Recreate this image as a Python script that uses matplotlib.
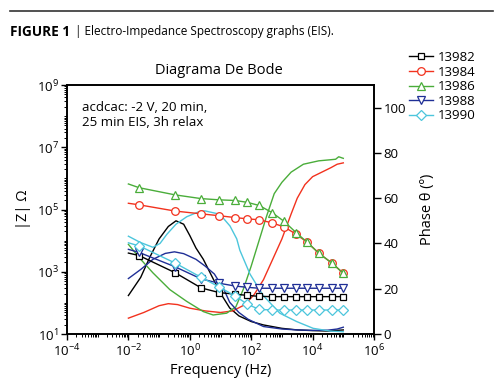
import matplotlib
matplotlib.use('Agg')
import matplotlib.pyplot as plt
import numpy as np
from matplotlib.ticker import LogLocator, FixedLocator, NullFormatter
from matplotlib.lines import Line2D

plt.rcParams['font.family'] = ['Open Sans', 'DejaVu Sans']
plt.rcParams['mathtext.fontset'] = 'custom'
plt.rcParams['mathtext.rm'] = 'Open Sans'

# Amostras (log10 da frequência) usadas para |Z|, com marcadores
logf_z = [-2.0, -1.65, -0.48, 0.37, 0.96, 1.48, 1.87, 2.26, 2.68, 3.07, 3.46, 3.82, 4.21, 4.64, 5.0]

# log10 |Z| por amostra
z_13982 = [3.60, 3.52, 2.97, 2.48, 2.33, 2.28, 2.24, 2.21, 2.20, 2.20, 2.20, 2.20, 2.20, 2.20, 2.20]
z_13984 = [5.20, 5.15, 4.95, 4.86, 4.80, 4.74, 4.70, 4.67, 4.57, 4.44, 4.21, 3.95, 3.59, 3.27, 2.95]
z_13986 = [5.82, 5.70, 5.47, 5.35, 5.31, 5.29, 5.23, 5.13, 4.90, 4.62, 4.26, 3.95, 3.59, 3.27, 2.95]
z_13988 = [3.72, 3.62, 3.16, 2.77, 2.63, 2.54, 2.50, 2.47, 2.47, 2.47, 2.47, 2.47, 2.47, 2.47, 2.47]
z_13990 = [3.93, 3.83, 3.28, 2.82, 2.51, 2.22, 1.96, 1.79, 1.77, 1.77, 1.77, 1.77, 1.77, 1.77, 1.77]

# Fase (graus) - curvas sem marcador
logf_p_13982 = [-2.0, -1.6, -1.3, -1.0, -0.7, -0.45, -0.2, 0.0, 0.2, 0.44, 0.7, 1.0, 1.3, 1.6, 2.0, 2.4, 3.0, 3.5, 4.0, 4.5, 5.0]
p_13982 = [17, 25, 34, 42, 47.5, 50, 48.5, 43.5, 38, 33, 26, 18, 11.5, 8, 5.5, 4, 2.5, 1.8, 1.5, 1.3, 1.8]

logf_p_13984 = [-2.0, -1.5, -1.0, -0.7, -0.4, 0.0, 0.5, 1.0, 1.4, 1.8, 2.1, 2.4, 2.7, 3.0, 3.3, 3.5, 3.75, 4.0, 4.3, 4.6, 4.8, 5.0]
p_13984 = [7, 9.5, 12.5, 13.4, 13, 11.4, 10.2, 9.5, 10.2, 13, 17.5, 24, 33, 42, 53, 60, 66, 69.5, 71.5, 73.5, 75, 75.6]

logf_p_13986 = [-2.0, -1.6, -1.2, -0.65, -0.1, 0.44, 0.76, 1.2, 1.5, 1.75, 2.0, 2.25, 2.5, 2.75, 3.0, 3.3, 3.7, 4.2, 4.6, 4.75, 4.85, 5.0]
p_13986 = [39.6, 33, 27, 19.6, 14.4, 9.9, 8.4, 9.2, 12, 20, 30, 41, 52, 62, 67, 71.5, 75, 76.5, 77, 77.2, 78.3, 77.6]

logf_p_13988 = [-2.0, -1.6, -1.2, -0.8, -0.5, -0.2, 0.2, 0.5, 0.8, 1.1, 1.3, 1.6, 1.9, 2.4, 3.0, 3.5, 4.0, 4.5, 4.8, 5.0]
p_13988 = [24.5, 28.5, 33, 35.6, 36.3, 35.5, 33, 30, 26.5, 20, 14, 9.5, 6.5, 3.3, 2.2, 1.8, 1.6, 1.7, 2.2, 3.0]

logf_p_13990 = [-2.0, -1.62, -1.2, -0.97, -0.75, -0.45, -0.1, 0.33, 0.49, 0.98, 1.31, 1.53, 1.63, 1.96, 2.39, 2.93, 3.48, 4.02, 4.57, 5.0]
p_13990 = [43.2, 40.5, 38.3, 40, 44, 48.5, 51.8, 54.2, 54.4, 52.9, 47.7, 42, 37, 26.5, 17, 9.2, 5.5, 2.5, 1.3, 1.0]

amostras = ['13982', '13984', '13986', '13988', '13990']
cores = ['#000000', '#f2321e', '#4aad3a', '#1f2f96', '#4cc6dc']
marcadores = ['s', 'o', '^', 'v', 'D']
tamanhos = [5, 5.5, 6, 6, 5]

modulos = [z_13982, z_13984, z_13986, z_13988, z_13990]
fases_f = [logf_p_13982, logf_p_13984, logf_p_13986, logf_p_13988, logf_p_13990]
fases = [p_13982, p_13984, p_13986, p_13988, p_13990]

fig = plt.figure(figsize=(5.0, 3.79), dpi=100)
ax = fig.add_axes([67 / 500, 1 - 334 / 379, 307 / 500, 249 / 379])
ax2 = ax.twinx()
ax.set_zorder(ax2.get_zorder() + 1)
ax.patch.set_visible(False)

fz = 10 ** np.array(logf_z)
for i in range(len(amostras)):
    ax2.plot(10 ** np.array(fases_f[i]), fases[i], '-', color=cores[i], lw=1.0)
    ax.plot(fz, 10 ** np.array(modulos[i]), '-', color=cores[i], lw=1.0,
            marker=marcadores[i], ms=tamanhos[i], mfc='white', mec=cores[i],
            mew=0.9, markevery=list(range(1, len(fz))))

ax.set_xscale('log')
ax.set_yscale('log')
ax.set_xlim(1e-4, 1e6)
ax.set_ylim(1e1, 1e9)
ax.xaxis.set_major_locator(FixedLocator([1e-4, 1e-2, 1e0, 1e2, 1e4, 1e6]))
ax.xaxis.set_minor_locator(LogLocator(base=10, subs=np.arange(1, 10), numticks=30))
ax.xaxis.set_minor_formatter(NullFormatter())
ax.yaxis.set_major_locator(FixedLocator([1e1, 1e3, 1e5, 1e7, 1e9]))
ax.yaxis.set_minor_locator(LogLocator(base=10, subs=np.arange(1, 10), numticks=30))
ax.yaxis.set_minor_formatter(NullFormatter())

ax2.set_ylim(0, 110)
ax2.set_yticks([0, 20, 40, 60, 80, 100])

for a in (ax, ax2):
    a.tick_params(which='major', direction='out', length=4, width=1.0, labelsize=9.5, pad=2)
    a.tick_params(which='minor', direction='out', length=2, width=0.7)
    for s in a.spines.values():
        s.set_linewidth(1.2)
ax2.tick_params(axis='y', length=5)

ax.set_xlabel('Frequency (Hz)', fontsize=10.5, labelpad=3)
ax.set_ylabel('|Z| Ω', fontsize=10.5, labelpad=4)
ax2.set_ylabel('Phase θ (º)', fontsize=10.5, labelpad=10)

fig.text(82 / 500, 1 - 101 / 379, 'acdcac: -2 V, 20 min,\n25 min EIS, 3h relax',
         fontsize=9.5, va='top', ha='left', linespacing=1.15)
fig.text(219 / 500, 1 - 70 / 379, 'Diagrama De Bode', fontsize=10.5, ha='center', va='center')

# cabeçalho da figura
fig.add_artist(Line2D([10 / 500, 493 / 500], [1 - 11 / 379, 1 - 11 / 379], color='#333333', lw=1.2))
fig.text(10 / 500, 1 - 32 / 379, 'FIGURE 1', fontsize=9.8, fontweight='bold', va='center', ha='left')
fig.text(75 / 500, 1 - 32 / 379, '| Electro-Impedance Spectroscopy graphs (EIS).', fontsize=8.5,
         va='center', ha='left')

handles = [Line2D([], [], color=cores[i], lw=1.0, marker=marcadores[i], ms=tamanhos[i],
                  mfc='white', mec=cores[i], mew=0.9) for i in range(len(amostras))]
fig.legend(handles, amostras, loc='upper left', bbox_to_anchor=(409 / 500, 1 - 51 / 379),
           frameon=False, fontsize=9.5, handlelength=1.8, handletextpad=0.4,
           labelspacing=0.12, borderpad=0, borderaxespad=0)

fig.savefig('out.png', dpi=100)
